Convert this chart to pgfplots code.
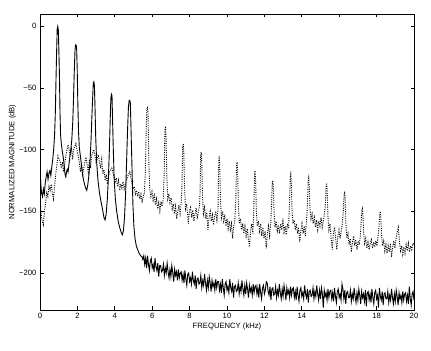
\documentclass[border=0pt]{standalone}
\usepackage{fontspec}
\setmainfont{Liberation Sans}
\usepackage{pgfplots}
\pgfplotsset{compat=1.18}
\begin{document}
\begin{tikzpicture}
\useasboundingbox (-40bp,-41bp) rectangle (391bp,310bp);
\begin{axis}[
  at={(0,0)}, anchor=south west,
  scale only axis, width=374bp, height=296bp,
  xmin=0, xmax=20, ymin=-230, ymax=10,
  xtick={0,2,4,6,8,10,12,14,16,18,20},
  ytick={-200,-150,-100,-50,0},
  yticklabels={−200,−150,−100,−50,0},
  tick align=inside, major tick length=3.5bp,
  tick style={line width=0.7bp, black},
  axis line style={line width=0.8bp},
  /pgf/number format/assume math mode=true,
  tick label style={font=\fontsize{7.7}{8}\selectfont},
  label style={font=\fontsize{7.7}{8}\selectfont},
  xlabel={FREQUENCY (kHz)},
  ylabel={NORMALIZED MAGNITUDE (dB)},
  xlabel style={at={(axis description cs:0.5,0)}, anchor=center, yshift=-17bp},
  ylabel style={at={(axis description cs:-0.074,0.5)}, anchor=center, rotate=0},
]
% dotted series
\addplot[black, line width=0.9bp, dash pattern=on 1bp off 1.3bp] table {
x y
0.00 -140
0.06 -152
0.12 -158
0.18 -161
0.24 -150
0.30 -143
0.36 -135
0.42 -138
0.48 -130
0.54 -133
0.60 -128
0.66 -135
0.72 -140
0.78 -130
0.84 -120
0.96 -105
1.08 -110
1.14 -115
1.20 -110
1.26 -118
1.32 -112
1.38 -105
1.44 -100
1.50 -96
1.56 -100
1.62 -105
1.68 -98
1.74 -108
1.80 -100
1.92 -95
2.04 -105
2.10 -110
2.16 -118
2.22 -112
2.28 -120
2.34 -115
2.40 -110
2.46 -106
2.52 -112
2.58 -118
2.64 -108
2.70 -115
2.76 -105
2.88 -100
3.00 -110
3.06 -107
3.12 -104
3.18 -110
3.24 -115
3.30 -108
3.36 -120
3.42 -116
3.48 -125
3.54 -120
3.60 -128
3.66 -122
3.72 -118
3.84 -115
3.96 -122
4.02 -126
4.08 -123
4.14 -130
4.20 -125
4.26 -133
4.32 -128
4.38 -131
4.44 -126
4.50 -132
4.56 -128
4.62 -125
4.68 -122
4.80 -118
4.92 -127
4.98 -132
5.04 -130
5.10 -136
5.16 -133
5.22 -138
5.28 -134
5.34 -140
5.40 -136
5.46 -143
5.52 -138
5.58 -135
5.63 -120
5.67 -90
5.71 -68
5.75 -65
5.78 -72
5.82 -110
5.87 -132
5.93 -138
5.99 -134
6.05 -141
6.11 -137
6.17 -145
6.23 -140
6.29 -148
6.35 -143
6.41 -150
6.47 -142
6.53 -146
6.59 -140
6.64 -120
6.68 -84
6.71 -81
6.74 -90
6.78 -120
6.83 -140
6.89 -136
6.95 -143
7.01 -139
7.07 -148
7.13 -144
7.19 -152
7.25 -146
7.31 -156
7.37 -150
7.43 -145
7.49 -152
7.55 -143
7.59 -130
7.63 -98
7.66 -95
7.69 -102
7.73 -130
7.78 -148
7.84 -144
7.90 -153
7.93 -160
7.99 -150
8.05 -147
8.11 -155
8.17 -149
8.23 -158
8.29 -152
8.35 -147
8.41 -156
8.47 -150
8.53 -145
8.56 -135
8.59 -105
8.62 -102
8.65 -110
8.69 -138
8.74 -152
8.80 -147
8.86 -156
8.92 -151
8.98 -165
9.04 -155
9.10 -150
9.16 -158
9.22 -153
9.28 -161
9.34 -154
9.40 -150
9.46 -157
9.52 -148
9.55 -115
9.58 -105
9.61 -112
9.65 -140
9.70 -155
9.76 -150
9.82 -158
9.88 -154
9.94 -162
10.00 -156
10.06 -164
10.12 -158
10.18 -165
10.24 -160
10.30 -172
10.36 -162
10.42 -157
10.47 -140
10.51 -113
10.54 -110
10.57 -118
10.61 -145
10.66 -160
10.72 -156
10.78 -165
10.84 -160
10.90 -168
10.96 -162
11.02 -170
11.08 -164
11.14 -172
11.20 -179
11.26 -166
11.32 -160
11.38 -168
11.43 -150
11.47 -120
11.50 -117
11.53 -125
11.57 -150
11.62 -162
11.68 -158
11.74 -166
11.80 -160
11.86 -170
11.92 -163
11.98 -172
12.04 -166
12.10 -180
12.16 -168
12.22 -162
12.28 -170
12.34 -160
12.38 -145
12.42 -128
12.45 -125
12.48 -132
12.52 -152
12.57 -163
12.63 -158
12.69 -166
12.75 -161
12.81 -168
12.87 -160
12.93 -165
12.99 -158
13.05 -167
13.11 -162
13.17 -169
13.23 -160
13.29 -164
13.34 -145
13.38 -123
13.41 -120
13.44 -127
13.48 -150
13.53 -160
13.59 -157
13.65 -165
13.71 -160
13.77 -168
13.83 -163
13.89 -175
13.95 -166
14.01 -160
14.07 -168
14.13 -162
14.19 -170
14.25 -158
14.30 -145
14.34 -126
14.37 -123
14.40 -130
14.44 -148
14.49 -156
14.55 -152
14.61 -160
14.67 -155
14.73 -163
14.79 -157
14.85 -165
14.91 -158
14.97 -162
15.03 -155
15.09 -163
15.15 -158
15.21 -152
15.26 -145
15.30 -130
15.33 -127
15.36 -134
15.40 -155
15.45 -165
15.51 -160
15.57 -172
15.63 -181
15.69 -168
15.75 -163
15.81 -172
15.87 -181
15.93 -170
15.99 -165
16.05 -172
16.11 -166
16.17 -160
16.22 -150
16.26 -137
16.29 -134
16.32 -140
16.36 -160
16.41 -172
16.47 -168
16.53 -177
16.59 -172
16.65 -183
16.71 -175
16.77 -170
16.83 -178
16.89 -173
16.95 -181
17.01 -174
17.07 -177
17.13 -170
17.17 -160
17.21 -150
17.24 -148
17.27 -153
17.31 -168
17.36 -176
17.42 -172
17.48 -180
17.54 -175
17.60 -181
17.66 -176
17.72 -173
17.78 -180
17.84 -175
17.90 -179
17.96 -174
18.02 -178
18.08 -170
18.13 -162
18.17 -152
18.20 -150
18.23 -156
18.27 -170
18.32 -178
18.38 -174
18.44 -182
18.50 -177
18.56 -184
18.62 -178
18.68 -183
18.74 -176
18.80 -187
18.86 -179
18.92 -174
18.98 -180
19.04 -172
19.09 -168
19.13 -165
19.16 -163
19.19 -168
19.23 -176
19.28 -182
19.34 -178
19.40 -185
19.46 -179
19.52 -184
19.58 -177
19.64 -182
19.70 -176
19.76 -183
19.82 -178
19.88 -181
19.94 -176
20.00 -177
};
% solid series
\addplot[black, line width=0.9bp] table {
x y
0.00 -90
0.03 -125
0.08 -135
0.13 -138
0.18 -132
0.23 -136
0.28 -127
0.33 -122
0.38 -118
0.43 -124
0.48 -119
0.53 -117
0.58 -121
0.63 -114
0.68 -108
0.73 -100
0.78 -88
0.82 -70
0.86 -40
0.89 -20
0.92 -2
0.95 0
0.98 -3
1.01 -20
1.04 -40
1.07 -70
1.10 -88
1.14 -95
1.18 -100
1.22 -104
1.26 -108
1.30 -114
1.34 -120
1.38 -122
1.42 -118
1.46 -116
1.50 -118
1.55 -112
1.60 -105
1.65 -100
1.70 -92
1.75 -78
1.79 -60
1.83 -38
1.87 -20
1.90 -15
1.93 -15
1.96 -18
1.99 -35
2.02 -60
2.06 -85
2.10 -98
2.15 -104
2.20 -110
2.26 -118
2.32 -124
2.38 -128
2.44 -131
2.50 -133
2.56 -128
2.62 -120
2.68 -108
2.73 -92
2.77 -75
2.81 -60
2.85 -46
2.88 -45
2.91 -48
2.94 -65
2.98 -90
3.03 -110
3.10 -125
3.18 -135
3.26 -142
3.34 -148
3.42 -155
3.48 -157
3.54 -152
3.60 -140
3.66 -122
3.71 -100
3.75 -78
3.79 -58
3.82 -55
3.85 -56
3.88 -75
3.92 -100
3.97 -125
4.03 -140
4.10 -150
4.18 -158
4.26 -163
4.34 -167
4.40 -169
4.46 -166
4.52 -155
4.58 -135
4.63 -110
4.68 -85
4.73 -65
4.77 -60
4.80 -60
4.83 -62
4.87 -85
4.92 -115
4.97 -145
5.02 -162
5.08 -172
5.15 -178
5.22 -181
5.30 -184
5.38 -186
5.46 -187
5.50 -189
5.55 -186
5.60 -193
5.65 -188
5.70 -196
5.75 -186
5.80 -193
5.85 -198
5.90 -190
5.95 -188
6.00 -196
6.05 -193
6.10 -199
6.15 -188
6.20 -195
6.25 -198
6.30 -192
6.35 -203
6.40 -194
6.45 -194
6.50 -199
6.55 -198
6.60 -193
6.65 -202
6.70 -196
6.75 -200
6.80 -192
6.85 -199
6.90 -204
6.95 -197
7.00 -203
7.05 -194
7.10 -200
7.15 -207
7.20 -197
7.25 -202
7.30 -199
7.35 -206
7.40 -197
7.45 -204
7.50 -200
7.55 -199
7.60 -206
7.65 -201
7.70 -208
7.75 -198
7.80 -205
7.85 -210
7.90 -201
7.95 -200
8.00 -207
8.05 -204
8.10 -209
8.15 -199
8.20 -206
8.25 -209
8.30 -202
8.35 -213
8.40 -205
8.45 -204
8.50 -209
8.55 -208
8.60 -202
8.65 -212
8.70 -206
8.75 -210
8.80 -201
8.85 -208
8.90 -214
8.95 -206
9.00 -212
9.05 -203
9.10 -208
9.15 -215
9.20 -206
9.25 -211
9.30 -208
9.35 -214
9.40 -205
9.45 -212
9.50 -207
9.55 -207
9.60 -214
9.65 -209
9.70 -216
9.75 -205
9.80 -212
9.85 -218
9.90 -209
9.95 -207
10.00 -214
10.05 -211
10.10 -216
10.15 -205
10.20 -212
10.25 -215
10.30 -208
10.35 -220
10.40 -211
10.45 -210
10.50 -215
10.55 -214
10.60 -208
10.65 -217
10.70 -211
10.75 -215
10.80 -206
10.85 -213
10.90 -218
10.95 -210
11.00 -217
11.05 -208
11.10 -213
11.15 -220
11.20 -210
11.25 -215
11.30 -212
11.35 -218
11.40 -209
11.45 -216
11.50 -211
11.55 -210
11.60 -217
11.65 -212
11.70 -220
11.75 -209
11.80 -216
11.85 -221
11.90 -212
11.95 -210
12.00 -217
12.05 -214
12.10 -207
12.15 -208
12.20 -215
12.25 -218
12.30 -211
12.35 -222
12.40 -213
12.45 -212
12.50 -218
12.55 -217
12.60 -211
12.65 -220
12.70 -214
12.75 -218
12.80 -209
12.85 -216
12.90 -221
12.95 -213
13.00 -219
13.05 -210
13.10 -215
13.15 -222
13.20 -212
13.25 -217
13.30 -214
13.35 -220
13.40 -211
13.45 -218
13.50 -213
13.55 -212
13.60 -220
13.65 -215
13.70 -222
13.75 -211
13.80 -218
13.85 -223
13.90 -214
13.95 -212
14.00 -219
14.05 -216
14.10 -221
14.15 -210
14.20 -217
14.25 -220
14.30 -213
14.35 -224
14.40 -215
14.45 -214
14.50 -219
14.55 -218
14.60 -212
14.65 -221
14.70 -215
14.75 -219
14.80 -210
14.85 -217
14.90 -222
14.95 -214
15.00 -221
15.05 -212
15.10 -217
15.15 -228
15.20 -214
15.25 -219
15.30 -216
15.35 -222
15.40 -213
15.45 -220
15.50 -215
15.55 -214
15.60 -221
15.65 -216
15.70 -223
15.75 -212
15.80 -219
15.85 -224
15.90 -215
15.95 -213
16.00 -220
16.05 -217
16.10 -222
16.15 -209
16.20 -213
16.25 -221
16.30 -214
16.35 -225
16.40 -216
16.45 -215
16.50 -220
16.55 -220
16.60 -214
16.65 -223
16.70 -217
16.75 -221
16.80 -212
16.85 -219
16.90 -224
16.95 -216
17.00 -222
17.05 -213
17.10 -218
17.15 -225
17.20 -215
17.25 -220
17.30 -217
17.35 -223
17.40 -214
17.45 -227
17.50 -216
17.55 -215
17.60 -222
17.65 -217
17.70 -224
17.75 -213
17.80 -220
17.85 -225
17.90 -216
17.95 -214
18.00 -221
18.05 -218
18.10 -228
18.15 -212
18.20 -219
18.25 -222
18.30 -215
18.35 -226
18.40 -217
18.45 -216
18.50 -221
18.55 -221
18.60 -215
18.65 -224
18.70 -218
18.75 -222
18.80 -213
18.85 -220
18.90 -225
18.95 -217
19.00 -223
19.05 -214
19.10 -219
19.15 -226
19.20 -216
19.25 -221
19.30 -218
19.35 -224
19.40 -215
19.45 -222
19.50 -217
19.55 -216
19.60 -223
19.65 -218
19.70 -225
19.75 -211
19.80 -221
19.85 -226
19.90 -217
19.95 -215
20.00 -222
};
\end{axis}
\end{tikzpicture}
\end{document}
